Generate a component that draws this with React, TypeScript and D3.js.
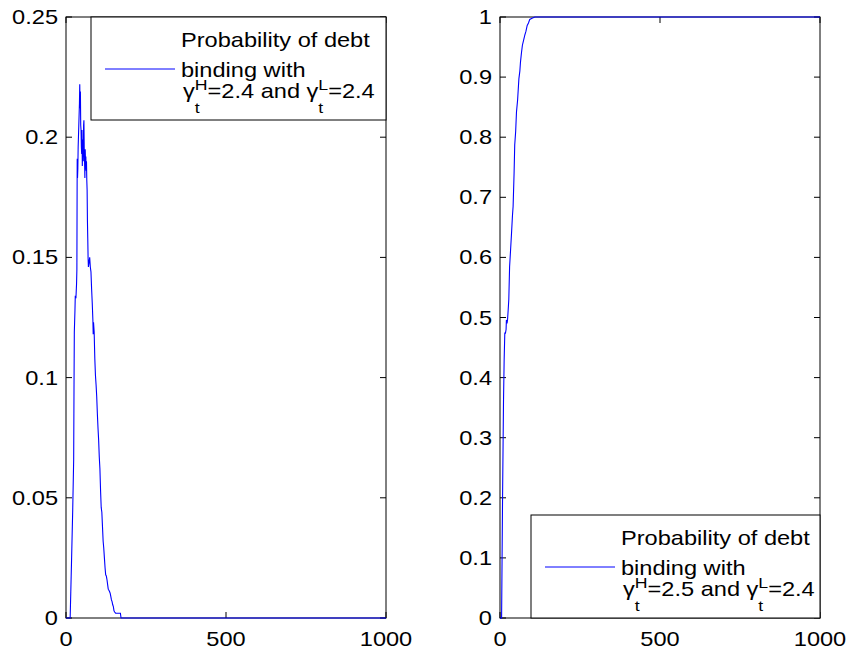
import * as d3 from "d3";

// left panel: probability of debt binding, gammaH = 2.4
const leftX = [0, 13, 17, 21, 24, 25, 26, 28, 29, 31, 33, 34, 35, 36, 37, 38, 40, 42, 43, 44, 45, 46, 47, 48, 49, 50, 51, 52, 53, 54, 55, 56, 57, 58, 59, 60, 61, 62, 63, 64, 65, 66, 67, 68, 69, 70, 72, 74, 76, 78, 80, 82, 84, 85, 86, 88, 90, 92, 94, 96, 98, 100, 102, 104, 106, 108, 110, 112, 114, 116, 118, 120, 122, 124, 126, 128, 130, 132, 134, 136, 138, 140, 142, 144, 146, 148, 150, 152, 155, 160, 165, 170, 172, 1000];
const leftY = [0, 0, 0.022, 0.045, 0.066, 0.095, 0.119, 0.128, 0.134, 0.133, 0.139, 0.145, 0.191, 0.183, 0.187, 0.196, 0.205, 0.214, 0.222, 0.212, 0.219, 0.205, 0.203, 0.196, 0.193, 0.203, 0.188, 0.197, 0.199, 0.19, 0.205, 0.207, 0.195, 0.19, 0.183, 0.195, 0.19, 0.192, 0.186, 0.19, 0.182, 0.178, 0.165, 0.158, 0.15, 0.146, 0.148, 0.15, 0.146, 0.144, 0.137, 0.131, 0.124, 0.118, 0.123, 0.119, 0.108, 0.101, 0.097, 0.092, 0.085, 0.079, 0.074, 0.067, 0.062, 0.053, 0.046, 0.044, 0.038, 0.032, 0.029, 0.025, 0.021, 0.018, 0.0175, 0.016, 0.014, 0.012, 0.0115, 0.011, 0.0103, 0.009, 0.0075, 0.0068, 0.0055, 0.0047, 0.003, 0.0025, 0.002, 0.002, 0.002, 0.002, 0, 0];

// right panel: gammaH = 2.5
const rightX = [0, 5, 8, 11, 13, 15, 17, 19, 20, 22, 23.5, 25.5, 27.5, 30, 33, 36, 39, 41, 44, 46, 49, 51.5, 55, 59, 62, 64, 67, 70, 74, 77.5, 81, 85, 89, 93, 100, 109, 1000];
const rightY = [0, 0, 0.2, 0.363, 0.43, 0.474, 0.474, 0.48, 0.496, 0.49, 0.496, 0.512, 0.53, 0.585, 0.612, 0.64, 0.67, 0.685, 0.74, 0.787, 0.81, 0.842, 0.862, 0.897, 0.91, 0.925, 0.94, 0.953, 0.962, 0.97, 0.976, 0.986, 0.99, 0.996, 0.998, 1, 1];

const xTicks = [0, 500, 1000];
const leftYTicks = [0, 0.05, 0.1, 0.15, 0.2, 0.25];
const rightYTicks = [0, 0.1, 0.2, 0.3, 0.4, 0.5, 0.6, 0.7, 0.8, 0.9, 1];
const legendLines = ["Probability of debt", "binding with"];
const gammaH = ["2.4", "2.5"];
const gammaL = ["2.4", "2.4"];

const font = "'Liberation Sans', Arial, Helvetica, sans-serif";
const fs = 20;
const sx = 1.18; // text in the figure is stretched horizontally
const top = 17;
const bottom = 618;
const tick = 6;

function Txt({ x, y, anchor = "start", children }: { x: number; y: number; anchor?: string; children: any }) {
  return (
    <text transform={`translate(${x},${y}) scale(${sx},1)`} textAnchor={anchor} fontSize={fs} fontFamily={font}>
      {children}
    </text>
  );
}

function Legend({ x0, x1, y0, idx }: { x0: number; x1: number; y0: number; idx: number }) {
  const tx = x0 + 90;
  return (
    <g>
      <rect x={x0} y={y0} width={x1 - x0} height={103} fill="white" stroke="black" strokeWidth={1} />
      <line x1={x0 + 14} x2={x0 + 84} y1={y0 + 52} y2={y0 + 52} stroke="#0000ff" strokeWidth={1} />
      <Txt x={tx} y={y0 + 30}>{legendLines[0]}</Txt>
      <Txt x={tx} y={y0 + 60}>{legendLines[1]}</Txt>
      <Txt x={tx + 2} y={y0 + 81}>
        <tspan>γ</tspan>
        <tspan fontSize={15} dy={15}>t</tspan>
        <tspan fontSize={15} dx={-4.2} dy={-23}>H</tspan>
        <tspan dy={8}>{`=${gammaH[idx]} and γ`}</tspan>
        <tspan fontSize={15} dy={15}>t</tspan>
        <tspan fontSize={15} dx={-4.2} dy={-23}>L</tspan>
        <tspan dy={8}>{`=${gammaL[idx]}`}</tspan>
      </Txt>
    </g>
  );
}

function Panel({ left, right, yMax, yTicks, xs, ys, fmt }: any) {
  const x = d3.scaleLinear().domain([0, 1000]).range([left, right]);
  const y = d3.scaleLinear().domain([0, yMax]).range([bottom, top]);
  const pts: [number, number][] = xs.map((v: number, i: number) => [v, ys[i]]);
  const line = d3.line<[number, number]>().x((d) => x(d[0])).y((d) => y(d[1]));
  return (
    <g>
      <rect x={left} y={top} width={right - left} height={bottom - top} fill="white" stroke="black" strokeWidth={1} />
      {yTicks.map((t: number) => (
        <g key={t}>
          <line x1={left} x2={left + tick} y1={y(t)} y2={y(t)} stroke="black" />
          <line x1={right} x2={right - tick} y1={y(t)} y2={y(t)} stroke="black" />
          <Txt x={left - 8} y={y(t) + 7} anchor="end">{fmt(t)}</Txt>
        </g>
      ))}
      {xTicks.map((t) => (
        <g key={t}>
          <line x1={x(t)} x2={x(t)} y1={bottom} y2={bottom - tick} stroke="black" />
          <line x1={x(t)} x2={x(t)} y1={top} y2={top + tick} stroke="black" />
          <Txt x={x(t)} y={646} anchor="middle">{String(t)}</Txt>
        </g>
      ))}
      <path d={line(pts) || undefined} fill="none" stroke="#0000ff" strokeWidth={1.1} />
    </g>
  );
}

export default function App() {
  return (
    <div style={{ position: "absolute", left: 0, top: 0 }}>
      <svg width={850} height={655} style={{ display: "block", background: "white" }}>
        <Panel left={66} right={386} yMax={0.25} yTicks={leftYTicks} xs={leftX} ys={leftY} fmt={(t: number) => String(+t.toFixed(2))} />
        <Legend x0={91} x1={386} y0={17} idx={0} />
        <Panel left={500} right={820} yMax={1} yTicks={rightYTicks} xs={rightX} ys={rightY} fmt={(t: number) => String(+t.toFixed(1))} />
        <Legend x0={531} x1={820} y0={515} idx={1} />
      </svg>
    </div>
  );
}
